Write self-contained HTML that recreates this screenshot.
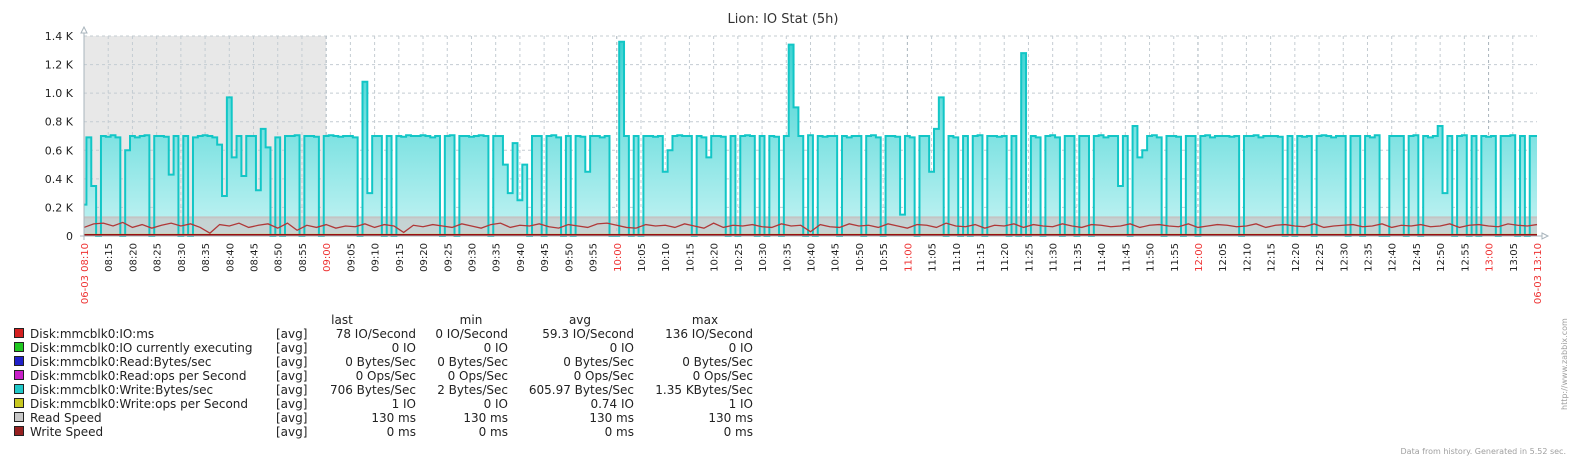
<!DOCTYPE html>
<html><head><meta charset="utf-8">
<style>
body{margin:0;background:#fff;width:1573px;height:460px;overflow:hidden;font-family:"DejaVu Sans","Liberation Sans",sans-serif;}
svg text{font-family:"DejaVu Sans","Liberation Sans",sans-serif;}
</style></head>
<body>
<svg id="chart" width="1573" height="460" xmlns="http://www.w3.org/2000/svg">
<defs>
<linearGradient id="cg" x1="0" y1="0" x2="0" y2="1">
<stop offset="0" stop-color="#3cd2d2"/><stop offset="1" stop-color="#c4f3f3"/>
</linearGradient>
</defs>
<text x="783" y="23" text-anchor="middle" font-size="13" fill="#333">Lion: IO Stat (5h)</text>
<g id="grid"></g>
<g id="series"></g>
<g id="axes"></g>
<g id="legend"></g>
<text transform="translate(1567,410) rotate(-90)" font-size="8" fill="#a0a0a0">http://www.zabbix.com</text>
<text x="1566" y="454" text-anchor="end" font-size="8" fill="#a0a0a0">Data from history. Generated in 5.52 sec.</text>
</svg>
<script>
// cyan: Disk:mmcblk0:Write:Bytes/sec, one value per minute from 08:10
const writeBytes = [
220,690,350,0,700,695,705,690,0,600,
700,690,700,705,0,700,700,695,430,700,
0,700,0,690,700,705,700,690,640,280,
970,550,700,420,700,700,320,750,620,0,
690,0,700,700,705,0,700,700,695,0,
700,705,700,695,700,700,690,0,1080,300,
700,700,0,700,0,700,695,705,700,700,
705,700,690,700,0,700,705,0,700,700,
695,700,705,700,0,700,700,500,300,650,
250,500,0,700,700,0,700,705,690,0,
700,0,700,695,450,700,700,690,700,0,
0,1360,700,0,700,0,700,700,695,700,
450,600,700,705,700,700,0,700,690,550,
700,700,695,0,700,0,700,705,700,0,
700,0,700,695,0,700,1340,900,700,0,
705,0,700,695,700,700,0,700,690,700,
700,0,700,705,690,0,700,700,695,150,
700,690,0,700,700,450,750,970,0,700,
690,0,700,0,700,705,0,700,700,695,
700,0,700,0,1280,0,700,690,0,700,
705,690,0,700,700,0,700,700,0,700,
705,690,700,700,350,700,0,770,550,600,
700,705,690,0,700,700,695,0,700,700,
0,700,705,690,700,700,700,695,700,0,
700,700,705,690,700,700,700,695,0,700,
0,700,695,700,0,700,705,700,690,700,
700,0,700,700,0,700,690,705,0,0,
700,700,700,0,700,705,0,700,690,700,
770,300,700,0,700,705,0,700,0,700,
695,700,0,700,700,705,0,700,0,700,
700];
// red: Disk:mmcblk0:IO:ms, one value per 2 minutes
const ioMs = [
60,85,90,70,95,60,80,55,75,90,70,85,60,20,80,70,90,60,75,85,
55,90,40,75,60,80,55,70,65,85,60,80,70,25,75,65,80,70,60,85,
70,55,80,90,60,75,70,85,65,55,80,70,60,85,90,75,60,55,80,70,
75,60,85,70,55,90,60,75,70,80,65,60,85,70,75,30,80,65,60,85,
70,75,60,85,70,55,80,75,60,90,70,65,80,55,75,70,85,60,80,70,
65,85,70,60,80,75,65,70,85,60,75,80,70,65,85,60,70,80,75,65,
70,85,60,75,80,70,65,85,60,70,75,80,65,70,85,60,75,70,80,65,
70,85,60,75,80,70,65,85,75,70,80];
const readSpeed = 130;
const writeOps = 1;
const yTicks = [0,200,400,600,800,1000,1200,1400];
const yTickLabels = ["0","0.2 K","0.4 K","0.6 K","0.8 K","1.0 K","1.2 K","1.4 K"];

const X0=84, X1=1537, Y0=236, Y1=36, TOTAL=300, YMAX=1400, START=8*60+10;
const xm = m => X0 + (X1-X0)*m/TOTAL;
const yv = v => Y0 - (Y0-Y1)*v/YMAX;
const NS="http://www.w3.org/2000/svg";
function mk(tag, attrs, parent){const e=document.createElementNS(NS,tag);for(const k in attrs)e.setAttribute(k,attrs[k]);parent.appendChild(e);return e;}
const grid=document.getElementById('grid'), ser=document.getElementById('series'), axes=document.getElementById('axes'), leg=document.getElementById('legend');

const shade=mk('rect',{x:xm(0),y:Y1,width:xm(50)-xm(0),height:Y0-Y1,fill:'#e8e8e8'},grid);


yTicks.forEach((v,i)=>{
  if(v>0){const l=mk('line',{x1:X0,x2:X1,y1:yv(v),y2:yv(v),stroke:'#c4ccd2','stroke-dasharray':'3,3'},grid);
  
  }
  const t=mk('text',{x:73,y:yv(v)+4,'text-anchor':'end','font-size':11,fill:'#222'},axes);
  t.textContent=yTickLabels[i];
  
  
});
for(let m=0;m<=TOTAL;m+=5){
  const x=xm(m);
  const tm=START+m, hh=Math.floor(tm/60), mm=tm%60;
  const lab=String(hh).padStart(2,'0')+':'+String(mm).padStart(2,'0');
  const hour = mm===0;
  if(m>0 && m<TOTAL){const l=mk('line',{x1:x,x2:x,y1:Y1,y2:Y0,stroke:hour?'#a8b4bc':'#c4ccd2','stroke-dasharray':'3,3'},grid);
  
  }
  let txt=lab, col=hour?'#e33':'#222';
  if(m===0||m===TOTAL){txt='06-03 '+lab;col='#e33';}
  const t=mk('text',{transform:`translate(${x+4},243) rotate(-90)`,'text-anchor':'end','font-size':10,fill:col},axes);
  t.textContent=txt;
  
  
}
// step path for cyan
const n=writeBytes.length;
let pts=[];
writeBytes.forEach((v,i)=>{
  const xa=xm(Math.max(0,i-0.5)), xb=xm(Math.min(TOTAL,i+0.5));
  pts.push(xa+','+yv(v)); pts.push(xb+','+yv(v));
});
const area=mk('polygon',{points:xm(0)+','+Y0+' '+pts.join(' ')+' '+xm(TOTAL)+','+Y0,fill:'url(#cg)'},ser);


const ra=mk('rect',{x:X0,y:yv(readSpeed),width:X1-X0,height:Y0-yv(readSpeed),fill:'#c8c8c8',opacity:0.75},ser);


const rl=mk('line',{x1:X0,x2:X1,y1:yv(readSpeed),y2:yv(readSpeed),stroke:'#c4c4c4','stroke-width':2},ser);


const cl=mk('polyline',{points:pts.join(' '),fill:'none',stroke:'#12c6c6','stroke-width':2},ser);


const rpts=ioMs.map((v,i)=>xm(i*2)+','+yv(v));
const red=mk('polyline',{points:rpts.join(' '),fill:'none',stroke:'#b03838','stroke-width':1.3},ser);


const yl=mk('line',{x1:X0,x2:X1,y1:yv(writeOps)-1.5,y2:yv(writeOps)-1.5,stroke:'#c8c800','stroke-width':1},ser);


const dl=mk('line',{x1:X0,x2:X1,y1:Y0-1,y2:Y0-1,stroke:'#9a1010','stroke-width':2},ser);


const ax1=mk('line',{x1:X0,x2:X0,y1:30,y2:Y0+4,stroke:'#a8b4bc'},axes);


const ar1=mk('path',{d:`M${X0-3},33 L${X0},27 L${X0+3},33 Z`,fill:'#fff',stroke:'#a8b4bc'},axes);


const ax2=mk('line',{x1:X0-4,x2:1543,y1:Y0,y2:Y0,stroke:'#a8b4bc'},axes);


const ar2=mk('path',{d:`M1542,${Y0-3} L1548,${Y0} L1542,${Y0+3} Z`,fill:'#fff',stroke:'#a8b4bc'},axes);



const legNames=["Disk:mmcblk0:IO:ms","Disk:mmcblk0:IO currently executing","Disk:mmcblk0:Read:Bytes/sec","Disk:mmcblk0:Read:ops per Second","Disk:mmcblk0:Write:Bytes/sec","Disk:mmcblk0:Write:ops per Second","Read Speed","Write Speed"];
const legColors=["#d42020","#20c820","#2020c8","#c820c8","#20c8c8","#c8c820","#c8c8c8","#962020"];
const legLast=["78 IO/Second","0 IO","0 Bytes/Sec","0 Ops/Sec","706 Bytes/Sec","1 IO","130 ms","0 ms"];
const legMin=["0 IO/Second","0 IO","0 Bytes/Sec","0 Ops/Sec","2 Bytes/Sec","0 IO","130 ms","0 ms"];
const legAvg=["59.3 IO/Second","0 IO","0 Bytes/Sec","0 Ops/Sec","605.97 Bytes/Sec","0.74 IO","130 ms","0 ms"];
const legMax=["136 IO/Second","0 IO","0 Bytes/Sec","0 Ops/Sec","1.35 KBytes/Sec","1 IO","130 ms","0 ms"];
[["last",342],["min",471],["avg",580],["max",705]].forEach(([h,x])=>{
  const t=mk('text',{x:x,y:324,'text-anchor':'middle','font-size':12,fill:'#222'},leg);
  t.textContent=h;
  
  
});
legNames.forEach((nm,i)=>{
  const y=338+i*14;
  const g=mk('g',{},leg);
  
  
  mk('rect',{x:14.5,y:y-9.5,width:9,height:9,fill:legColors[i],stroke:'#222'},g);
  const cells=[[nm,30,'start'],["[avg]",276,'start'],[legLast[i],416,'end'],[legMin[i],508,'end'],[legAvg[i],634,'end'],[legMax[i],753,'end']];
  cells.forEach(c=>{const t=mk('text',{x:c[1],y:y,'text-anchor':c[2],'font-size':12,'textLength':undefined,fill:'#222'},g);t.removeAttribute('textLength');t.textContent=c[0];});
});
</script>
</body></html>
